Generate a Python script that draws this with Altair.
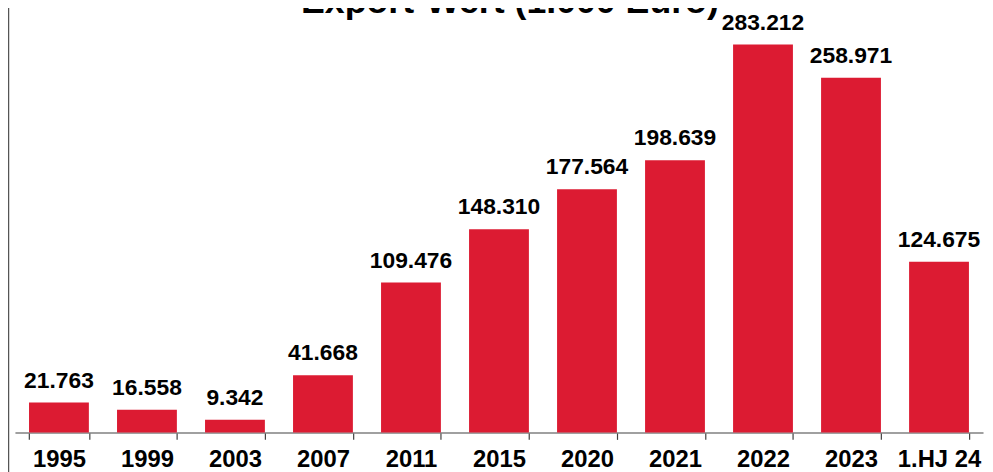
import altair as alt
import pandas as pd

categories = ["1995", "1999", "2003", "2007", "2011", "2015", "2020", "2021", "2022", "2023", "1.HJ 24"]
values = [21.763, 16.558, 9.342, 41.668, 109.476, 148.310, 177.564, 198.639, 283.212, 258.971, 124.675]
labels = ["21.763", "16.558", "9.342", "41.668", "109.476", "148.310", "177.564", "198.639", "283.212", "258.971", "124.675"]
title_text = "Export-Wert (1.000 Euro)"

df = pd.DataFrame({"cat": categories, "val": values, "lab": labels})

FONT = "Liberation Sans"
RED = "#DC1B32"

x = alt.X("cat:N", sort=categories, title=None,
          scale=alt.Scale(paddingInner=0.32, paddingOuter=0.16),
          axis=alt.Axis(labelAngle=0, labelFont=FONT, labelFontSize=24, labelFontWeight="bold",
                        labelColor="#000000", labelPadding=8, tickBand="extent",
                        domainColor="#808080", domainWidth=1.5, tickColor="#404040",
                        tickSize=7, tickWidth=1.2, grid=False))
y = alt.Y("val:Q", title=None, scale=alt.Scale(domain=[0, 308.5], nice=False, zero=True),
          axis=None)

bars = alt.Chart(df).mark_bar(color=RED).encode(x=x, y=y)

text = alt.Chart(df).mark_text(font=FONT, fontSize=23, fontWeight="bold", color="#000000",
                               baseline="alphabetic", dy=-15).encode(
    x=alt.X("cat:N", sort=categories), y=y, text="lab:N")

title = alt.Chart(pd.DataFrame({"t": [title_text]})).mark_text(
    font=FONT, fontSize=36, fontWeight="bold", color="#000000",
    baseline="alphabetic", align="center").encode(
    x=alt.value(499), y=alt.value(3), text="t:N")

border = alt.Chart(pd.DataFrame({"a": [0]})).mark_rule(color="#555555", strokeWidth=1.5).encode(
    x=alt.value(-6.5), y=alt.value(-10), y2=alt.value(470))

chart = alt.layer(bars, text, title, border).properties(
    width=976, height=426,
    autosize=alt.AutoSizeParams(type="none"),
    padding={"left": 7, "top": 0, "right": 2, "bottom": 38},
    background="white",
).configure_view(stroke=None)

chart.save("out.html", embed_options={"renderer": "svg", "actions": False})
